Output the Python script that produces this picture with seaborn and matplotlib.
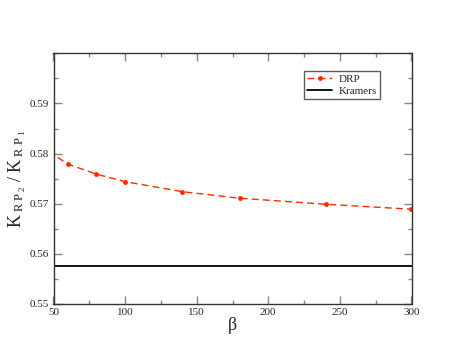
import matplotlib
matplotlib.use("Agg")
import matplotlib.pyplot as plt
import seaborn as sns
import pandas as pd
from matplotlib.ticker import MultipleLocator, FixedLocator

beta = [40, 60, 80, 100, 140, 180, 240, 300]
drp = [0.5817, 0.5779, 0.5759, 0.5744, 0.5724, 0.5711, 0.5699, 0.5689]
kramers = 0.5576
xticks = [50, 100, 150, 200, 250, 300]
yticks = [0.55, 0.56, 0.57, 0.58, 0.59]

sns.set_style("ticks")
plt.rcParams['font.family'] = ['Liberation Serif', 'DejaVu Serif']
plt.rcParams['mathtext.fontset'] = 'custom'
plt.rcParams['mathtext.rm'] = 'Liberation Serif'
plt.rcParams['mathtext.it'] = 'Liberation Serif:italic'

fig = plt.figure(figsize=(4.63, 3.58), dpi=100)
ax = fig.add_axes([53.5/463, 1-304/358, (411.5-53.5)/463, (304-53.3)/358])

df = pd.DataFrame({"beta": beta, "ratio": drp})
red = '#ff2a00'
sns.lineplot(data=df, x="beta", y="ratio", ax=ax, color=red, linestyle=(0, (5, 3)),
             linewidth=1.0, marker='o', markersize=3.5, markeredgewidth=0,
             label="DRP")
ax.axhline(kramers, color='black', linewidth=1.3, label="Kramers")

ax.set_xlim(50, 300)
ax.set_ylim(0.55, 0.60)
ax.xaxis.set_major_locator(FixedLocator(xticks))
ax.yaxis.set_major_locator(FixedLocator(yticks))
ax.xaxis.set_minor_locator(MultipleLocator(25))
ax.yaxis.set_minor_locator(MultipleLocator(0.005))
ax.set_xticklabels([str(v) for v in xticks])
ax.set_yticklabels([f"{v:.2f}" for v in yticks])
ax.tick_params(which='both', direction='in', top=True, right=True, color='#888888',
               labelsize=8, pad=3)
ax.tick_params(which='major', length=6, width=1)
ax.tick_params(which='minor', length=3, width=1)
for s in ax.spines.values():
    s.set_color('#333333')
    s.set_linewidth(1.0)

ax.set_xlabel('β', fontsize=13, labelpad=0)
ax.set_ylabel(r'$\mathrm{K}_{\ \mathrm{R\ P}_{\ 2}}\ /\ \mathrm{K}_{\ \mathrm{R\ P}_{\ 1}}$',
              fontsize=13, va='center')
ax.yaxis.set_label_coords(-0.10, 0.5)

leg = ax.legend(loc='upper left', bbox_to_anchor=(0.70, 0.93), fontsize=8,
                frameon=True, fancybox=False, edgecolor='#333333',
                handlelength=2.2, borderpad=0.3, labelspacing=0.2,
                handletextpad=0.6, borderaxespad=0)
leg.get_frame().set_linewidth(1.0)

fig.savefig("out.png", dpi=100)
